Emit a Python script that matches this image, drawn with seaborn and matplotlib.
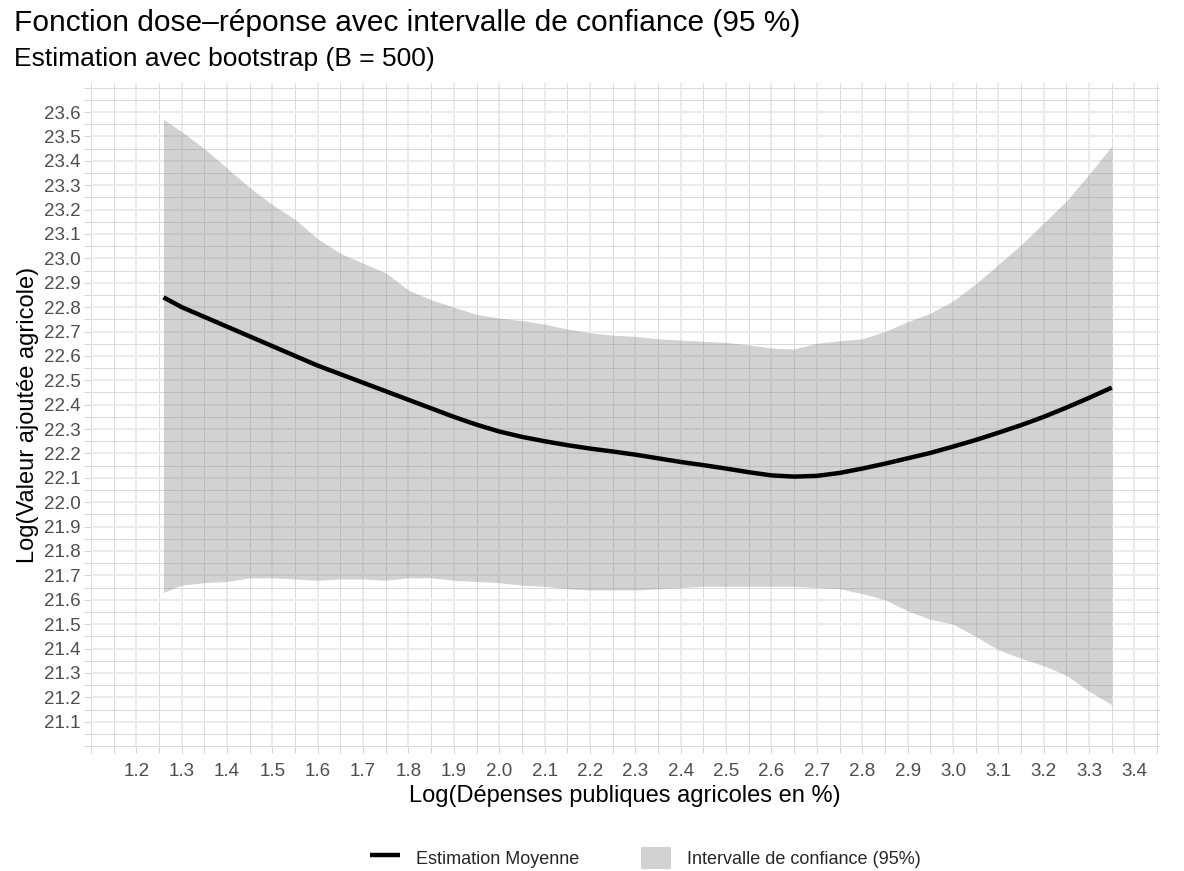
import numpy as np
import pandas as pd
import matplotlib
matplotlib.use("Agg")
import matplotlib.pyplot as plt
import seaborn as sns
from matplotlib.lines import Line2D
from matplotlib.patches import Patch

# ---- data ----
x_mean = [1.26, 1.3, 1.35, 1.4, 1.45, 1.5, 1.55, 1.6, 1.65, 1.7, 1.75, 1.8, 1.85,
          1.9, 1.95, 2.0, 2.05, 2.1, 2.15, 2.2, 2.25, 2.3, 2.35, 2.4, 2.45, 2.5,
          2.55, 2.6, 2.65, 2.7, 2.75, 2.8, 2.85, 2.9, 2.95, 3.0, 3.05, 3.1, 3.15,
          3.2, 3.25, 3.3, 3.35]
y_mean = [22.84, 22.80, 22.76, 22.72, 22.68, 22.64, 22.60, 22.56, 22.525, 22.49,
          22.455, 22.42, 22.385, 22.35, 22.318, 22.29, 22.268, 22.25, 22.234, 22.22,
          22.208, 22.195, 22.18, 22.165, 22.152, 22.138, 22.123, 22.11, 22.105, 22.108,
          22.12, 22.138, 22.158, 22.18, 22.202, 22.228, 22.255, 22.285, 22.316, 22.35,
          22.388, 22.428, 22.47]

x_band = [1.26, 1.3, 1.35, 1.4, 1.45, 1.5, 1.55, 1.6, 1.65, 1.7, 1.75, 1.8, 1.85,
          1.9, 1.95, 2.0, 2.05, 2.1, 2.15, 2.2, 2.25, 2.3, 2.35, 2.4, 2.45, 2.5,
          2.55, 2.6, 2.65, 2.7, 2.75, 2.8, 2.85, 2.9, 2.95, 3.0, 3.05, 3.1, 3.15,
          3.2, 3.25, 3.3, 3.35]
upper = [23.57, 23.52, 23.45, 23.37, 23.29, 23.22, 23.16, 23.08, 23.02, 22.98,
         22.94, 22.87, 22.83, 22.80, 22.77, 22.755, 22.745, 22.73, 22.71, 22.695,
         22.685, 22.68, 22.67, 22.665, 22.66, 22.655, 22.645, 22.632, 22.628, 22.652,
         22.662, 22.67, 22.70, 22.74, 22.775, 22.825, 22.895, 22.975, 23.055, 23.145,
         23.235, 23.345, 23.46]
lower = [21.63, 21.66, 21.67, 21.675, 21.69, 21.69, 21.685, 21.68, 21.685, 21.685,
         21.68, 21.69, 21.69, 21.68, 21.675, 21.67, 21.66, 21.655, 21.645, 21.64,
         21.64, 21.64, 21.645, 21.65, 21.655, 21.655, 21.655, 21.655, 21.655, 21.65,
         21.645, 21.625, 21.60, 21.555, 21.52, 21.50, 21.45, 21.395, 21.36, 21.33,
         21.29, 21.225, 21.17]

title = "Fonction dose\u2013réponse avec intervalle de confiance (95 %)"
subtitle = "Estimation avec bootstrap (B = 500)"
xlabel = "Log(Dépenses publiques agricoles en %)"
ylabel = "Log(Valeur ajoutée agricole)"
legend_labels = ["Estimation Moyenne", "Intervalle de confiance (95%)"]

# ---- style ----
sns.set_theme(style="white")
plt.rcParams["font.family"] = ["Liberation Sans", "DejaVu Sans"]

fig = plt.figure(figsize=(11.84, 8.71), dpi=100)
ax = fig.add_axes([0.076, 0.142, 0.904, 0.763])

band_color = (0.5, 0.5, 0.5)
ax.fill_between(x_band, lower, upper, color=band_color, alpha=0.35, linewidth=0, zorder=2)

df = pd.DataFrame({"x": x_mean, "y": y_mean})
sns.lineplot(data=df, x="x", y="y", ax=ax, color="black", linewidth=3.2, zorder=3,
             estimator=None, sort=True, solid_capstyle="butt")

ax.set_xlim(1.098, 3.457)
ax.set_ylim(20.995, 23.72)

xmaj = np.round(np.arange(1.2, 3.401, 0.1), 2)
ymaj = np.round(np.arange(21.1, 23.601, 0.1), 2)
ax.set_xticks(xmaj)
ax.set_xticklabels([f"{v:.1f}" for v in xmaj])
ax.set_yticks(ymaj)
ax.set_yticklabels([f"{v:.1f}" for v in ymaj])
ax.set_xticks(np.round(np.arange(1.1, 3.46, 0.05), 3).tolist(), minor=True)
ax.set_yticks(np.round(np.arange(21.0, 23.71, 0.05), 3).tolist(), minor=True)

ax.grid(which="minor", color="#d9d9d9", linewidth=0.7, zorder=0)
ax.grid(which="major", color="#ebebeb", linewidth=1.4, zorder=0)
ax.set_axisbelow(True)

for s in ax.spines.values():
    s.set_visible(False)

ax.tick_params(axis="both", which="both", length=4, width=0.6, color="#c8c8c8",
               labelsize=13.5, labelcolor="#4d4d4d", direction="out")
ax.tick_params(axis="x", which="major", pad=7)
ax.tick_params(axis="y", which="major", pad=3)
ax.tick_params(left=True, bottom=True, which="both")

ax.set_xlabel(xlabel, fontsize=17, color="black", labelpad=4)
ax.set_ylabel(ylabel, fontsize=17, color="black", labelpad=3)

fig.text(0.012, 0.974, title, fontsize=21.5, ha="left", va="center", color="black")
fig.text(0.012, 0.932, subtitle, fontsize=19, ha="left", va="center", color="black")

handles = [Line2D([0], [0], color="black", linewidth=3.2, solid_capstyle="butt"),
           Patch(facecolor=band_color, alpha=0.35, edgecolor="none")]
fig.legend(handles, legend_labels, loc="center", bbox_to_anchor=(0.545, 0.015),
           ncol=2, frameon=False, fontsize=13, handlelength=1.65, handleheight=1.55,
           columnspacing=3.4, handletextpad=0.9)

fig.savefig("out.png", dpi=100)
